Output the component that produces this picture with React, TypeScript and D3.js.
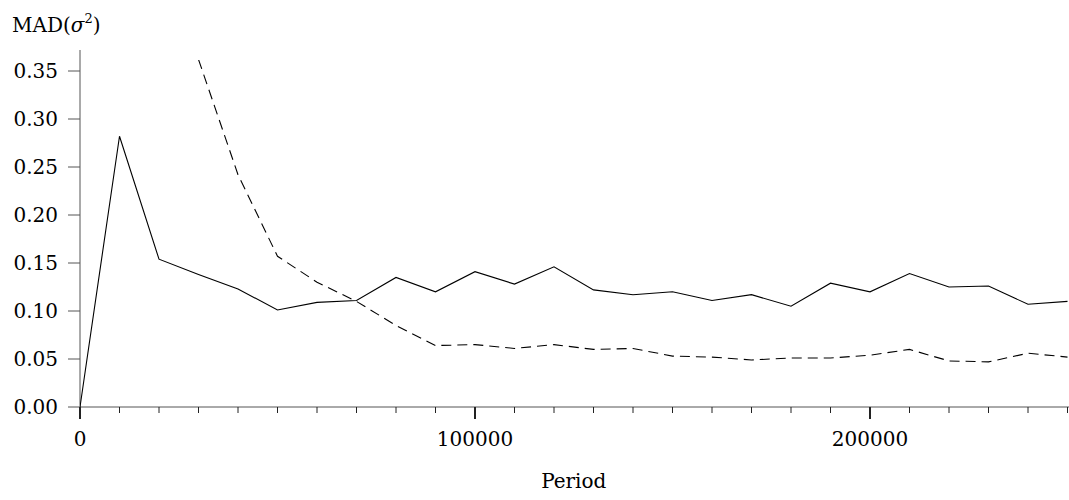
import React from 'react';
import * as d3 from 'd3';

const periods = d3.range(0, 260000, 10000);
const solid = [0, 0.282, 0.154, 0.138, 0.123, 0.101, 0.109, 0.111, 0.135, 0.120, 0.141, 0.128, 0.146, 0.122, 0.117, 0.120, 0.111, 0.117, 0.105, 0.129, 0.120, 0.139, 0.125, 0.126, 0.107, 0.110];
const dashedPeriods = periods.slice(3);
const dashed = [0.362, 0.242, 0.157, 0.130, 0.110, 0.085, 0.064, 0.065, 0.061, 0.065, 0.060, 0.061, 0.053, 0.052, 0.049, 0.051, 0.051, 0.054, 0.060, 0.048, 0.047, 0.056, 0.052];
const yTicks = [0, 0.05, 0.1, 0.15, 0.2, 0.25, 0.3, 0.35];
const xLabels = [0, 100000, 200000];

export default function App() {
  const W = 1069, H = 500;
  const x = d3.scaleLinear().domain([0, 250000]).range([80, 1067.5]);
  const y = d3.scaleLinear().domain([0, 0.35]).range([407, 71]);
  const solidPath = d3.line<number>().x((_, i) => x(periods[i])).y(d => y(d))(solid) || '';
  const dashedPath = d3.line<number>().x((_, i) => x(dashedPeriods[i])).y(d => y(d))(dashed) || '';
  const font = "'DejaVu Serif', 'Liberation Serif', serif";
  return (
    <svg width={W} height={H} style={{ position: 'absolute', left: 0, top: 0 }} fontFamily={font}>
      <defs>
        <clipPath id="c"><rect x={80} y={60} width={990} height={350} /></clipPath>
      </defs>
      <line x1={80} x2={80} y1={50} y2={407} stroke="#555" strokeWidth={1} />
      <line x1={80} x2={1069} y1={407} y2={407} stroke="#555" strokeWidth={1} />
      {yTicks.map(t => (
        <g key={t}>
          <line x1={68} x2={80} y1={y(t)} y2={y(t)} stroke="#555" />
          <text x={58} y={y(t) + 7} textAnchor="end" fontSize={20} fontFamily={font}>{t.toFixed(2)}</text>
        </g>
      ))}
      {periods.map(p => (
        <line key={p} x1={x(p)} x2={x(p)} y1={407} y2={p % 100000 === 0 ? 419 : 413} stroke="#222" strokeWidth={p % 100000 === 0 ? 2 : 1} />
      ))}
      {xLabels.map(p => (
        <text key={p} x={x(p)} y={446} textAnchor="middle" fontSize={20} fontFamily={font}>{p}</text>
      ))}
      <text x={x(125000)} y={488} textAnchor="middle" fontSize={20} fontFamily={font}>Period</text>
      <text x={12} y={32} fontSize={20} fontFamily={font}>MAD(<tspan fontStyle="italic">σ</tspan><tspan fontSize={13} dy={-9}>2</tspan><tspan dy={9}>)</tspan></text>
      <g clipPath="url(#c)" fill="none" stroke="#000" strokeWidth={1.1}>
        <path d={solidPath} />
        <path d={dashedPath} strokeDasharray="10,6" />
      </g>
    </svg>
  );
}
